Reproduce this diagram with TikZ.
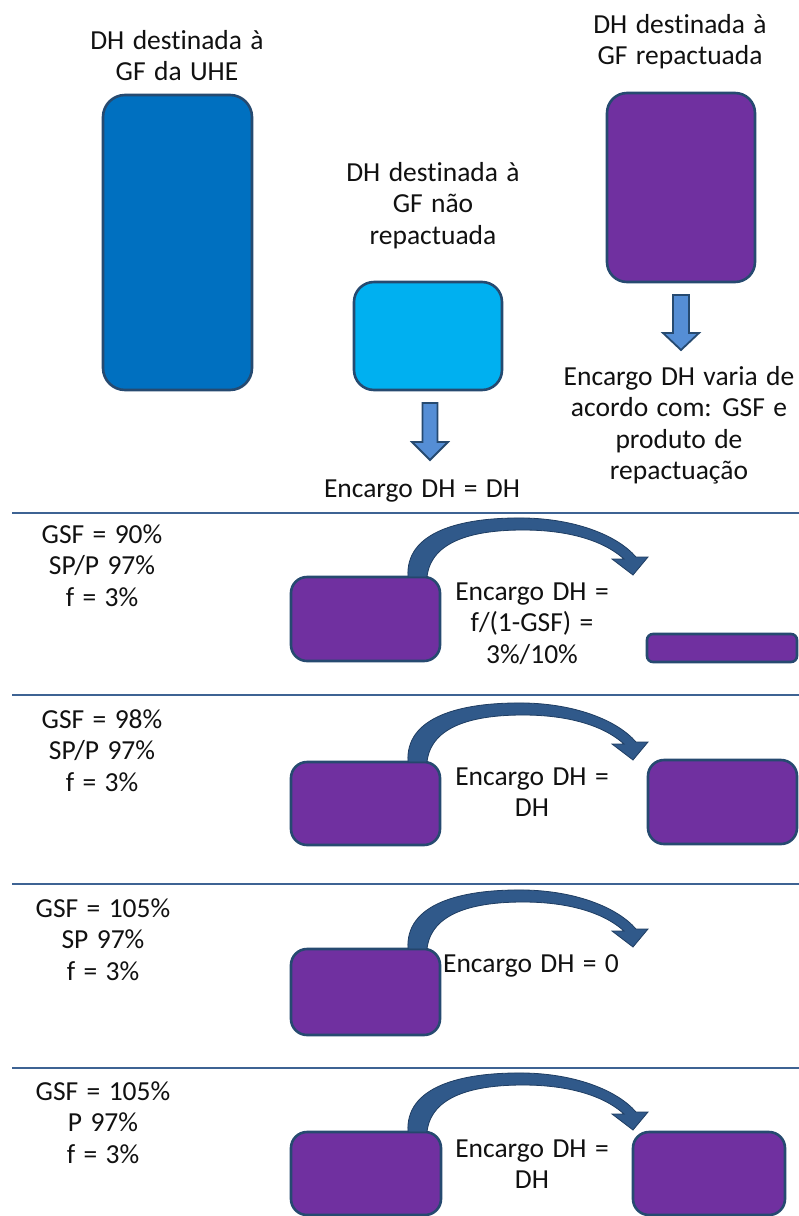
\documentclass[tikz,border=0pt]{standalone}
\usepackage{fontspec}
\setmainfont[WordSpace=1.35, Ligatures=NoCommon]{Carlito}
\usetikzlibrary{calc}
\definecolor{uheblue}{HTML}{0070C0}
\definecolor{lightblue}{HTML}{00B0F0}
\definecolor{repurple}{HTML}{7030A0}
\definecolor{edge}{HTML}{264A70}
\definecolor{rule}{HTML}{3E6393}
\definecolor{arrowfill}{HTML}{558ED5}
\definecolor{bendfill}{HTML}{30598A}
\definecolor{bendedge}{HTML}{1F3D62}
\definecolor{txt}{HTML}{111111}

% curved block arrow rising from the top of a box and dropping to the right
\newcommand\bendarrow[1]{%
  \draw[bendstyle, shift={(#1.north west)}]
    (117,0) .. controls (114,-45) and (169,-60) .. (234,-59)
    .. controls (284,-58) and (326,-42) .. (345,-20)
    -- (357,-20) -- (342,-2) -- (321,-18) -- (333,-18)
    .. controls (312,-37) and (276,-47) .. (232,-47)
    .. controls (182,-47) and (140,-36) .. (136,0) -- cycle;}

\begin{document}
\begin{tikzpicture}[x=1pt,y=-1pt,
  every node/.style={font=\fontsize{27.5}{31.5}\selectfont, text=txt},
  lbl/.style={align=center, anchor=base, inner sep=0pt},
  box/.style={draw=edge, line width=2.6pt, rounded corners=16pt, inner sep=0pt, outer sep=0pt},
  blockarrow/.style={draw=edge, line width=1.8pt, fill=arrowfill, line join=miter},
  bendstyle/.style={draw=bendedge, line width=0.8pt, fill=bendfill},
  sep/.style={draw=rule, line width=2pt}]
\useasboundingbox (0,0) rectangle (799,1216);

% label positions are given at the baseline of each label's last line

% ---------- upper part ----------
\node[lbl] (tuhe) at (177,80.5) {DH destinada à\\GF da UHE};
\node[box, fill=uheblue, rounded corners=22pt, minimum width=149pt, minimum height=295pt] (uhe) at (177.5,242.5) {};

\node[lbl] (tnrep) at (433,244) {DH destinada à\\GF não\\repactuada};
\node[box, fill=lightblue, rounded corners=20pt, minimum width=148pt, minimum height=108pt] (nrep) at (428,336) {};

\node[lbl] (trep) at (680,64.5) {DH destinada à\\GF repactuada};
\node[box, fill=repurple, rounded corners=20pt, minimum width=148pt, minimum height=189pt] (rep) at (681,187.5) {};

\node[lbl] (enrep) at (422,497) {Encargo DH = DH};
\node[lbl] (erep) at (679,479.5) {Encargo DH varia de\\acordo com: GSF e\\produto de\\repactuação};

% block arrows pointing down from the boxes
\draw[blockarrow, shift={($(nrep.south)+(2,13)$)}]
  (-7.5,0) -- (7.5,0) -- (7.5,39) -- (18,39) -- (0,57) -- (-18,39) -- (-7.5,39) -- cycle;
\draw[blockarrow, shift={($(rep.south)+(0,13)$)}]
  (-8,0) -- (8,0) -- (8,38) -- (18,38) -- (0,55) -- (-18,38) -- (-8,38) -- cycle;

% ---------- separators ----------
\draw[sep] (12,513) -- (799,513);
\draw[sep] (12,695) -- (799,695);
\draw[sep] (12,884) -- (799,884);
\draw[sep] (12,1068) -- (799,1068);

% ---------- case 1 ----------
\node[lbl] (c1) at (102,606) {GSF = 90\%\\SP/P 97\%\\f = 3\%};
\node[box, fill=repurple, minimum width=149pt, minimum height=84pt] (b1l) at (365.5,619) {};
\node[box, fill=repurple, rounded corners=6pt, minimum width=150pt, minimum height=28pt] (b1r) at (722,648) {};
\node[lbl] (e1) at (532,663) {Encargo DH =\\f/(1-GSF) =\\3\%/10\%};
\bendarrow{b1l}

% ---------- case 2 ----------
\node[lbl] (c2) at (102,791) {GSF = 98\%\\SP/P 97\%\\f = 3\%};
\node[box, fill=repurple, minimum width=149pt, minimum height=83pt] (b2l) at (365.5,803.5) {};
\node[box, fill=repurple, minimum width=149pt, minimum height=84pt] (b2r) at (722.5,802) {};
\node[lbl] (e2) at (532,816.5) {Encargo DH =\\DH};
\bendarrow{b2l}

% ---------- case 3 ----------
\node[lbl] (c3) at (103,980) {GSF = 105\%\\SP 97\%\\f = 3\%};
\node[box, fill=repurple, minimum width=149pt, minimum height=86pt] (b3l) at (365.5,992) {};
\node[lbl] (e3) at (531,972) {Encargo DH = 0};
\bendarrow{b3l}

% ---------- case 4 ----------
\node[lbl] (c4) at (103,1163) {GSF = 105\%\\P 97\%\\f = 3\%};
\node[box, fill=repurple, minimum width=150pt, minimum height=83pt] (b4l) at (366,1173.5) {};
\node[box, fill=repurple, minimum width=152pt, minimum height=83pt] (b4r) at (709,1173.5) {};
\node[lbl] (e4) at (532,1188.5) {Encargo DH =\\DH};
\bendarrow{b4l}
\end{tikzpicture}
\end{document}
